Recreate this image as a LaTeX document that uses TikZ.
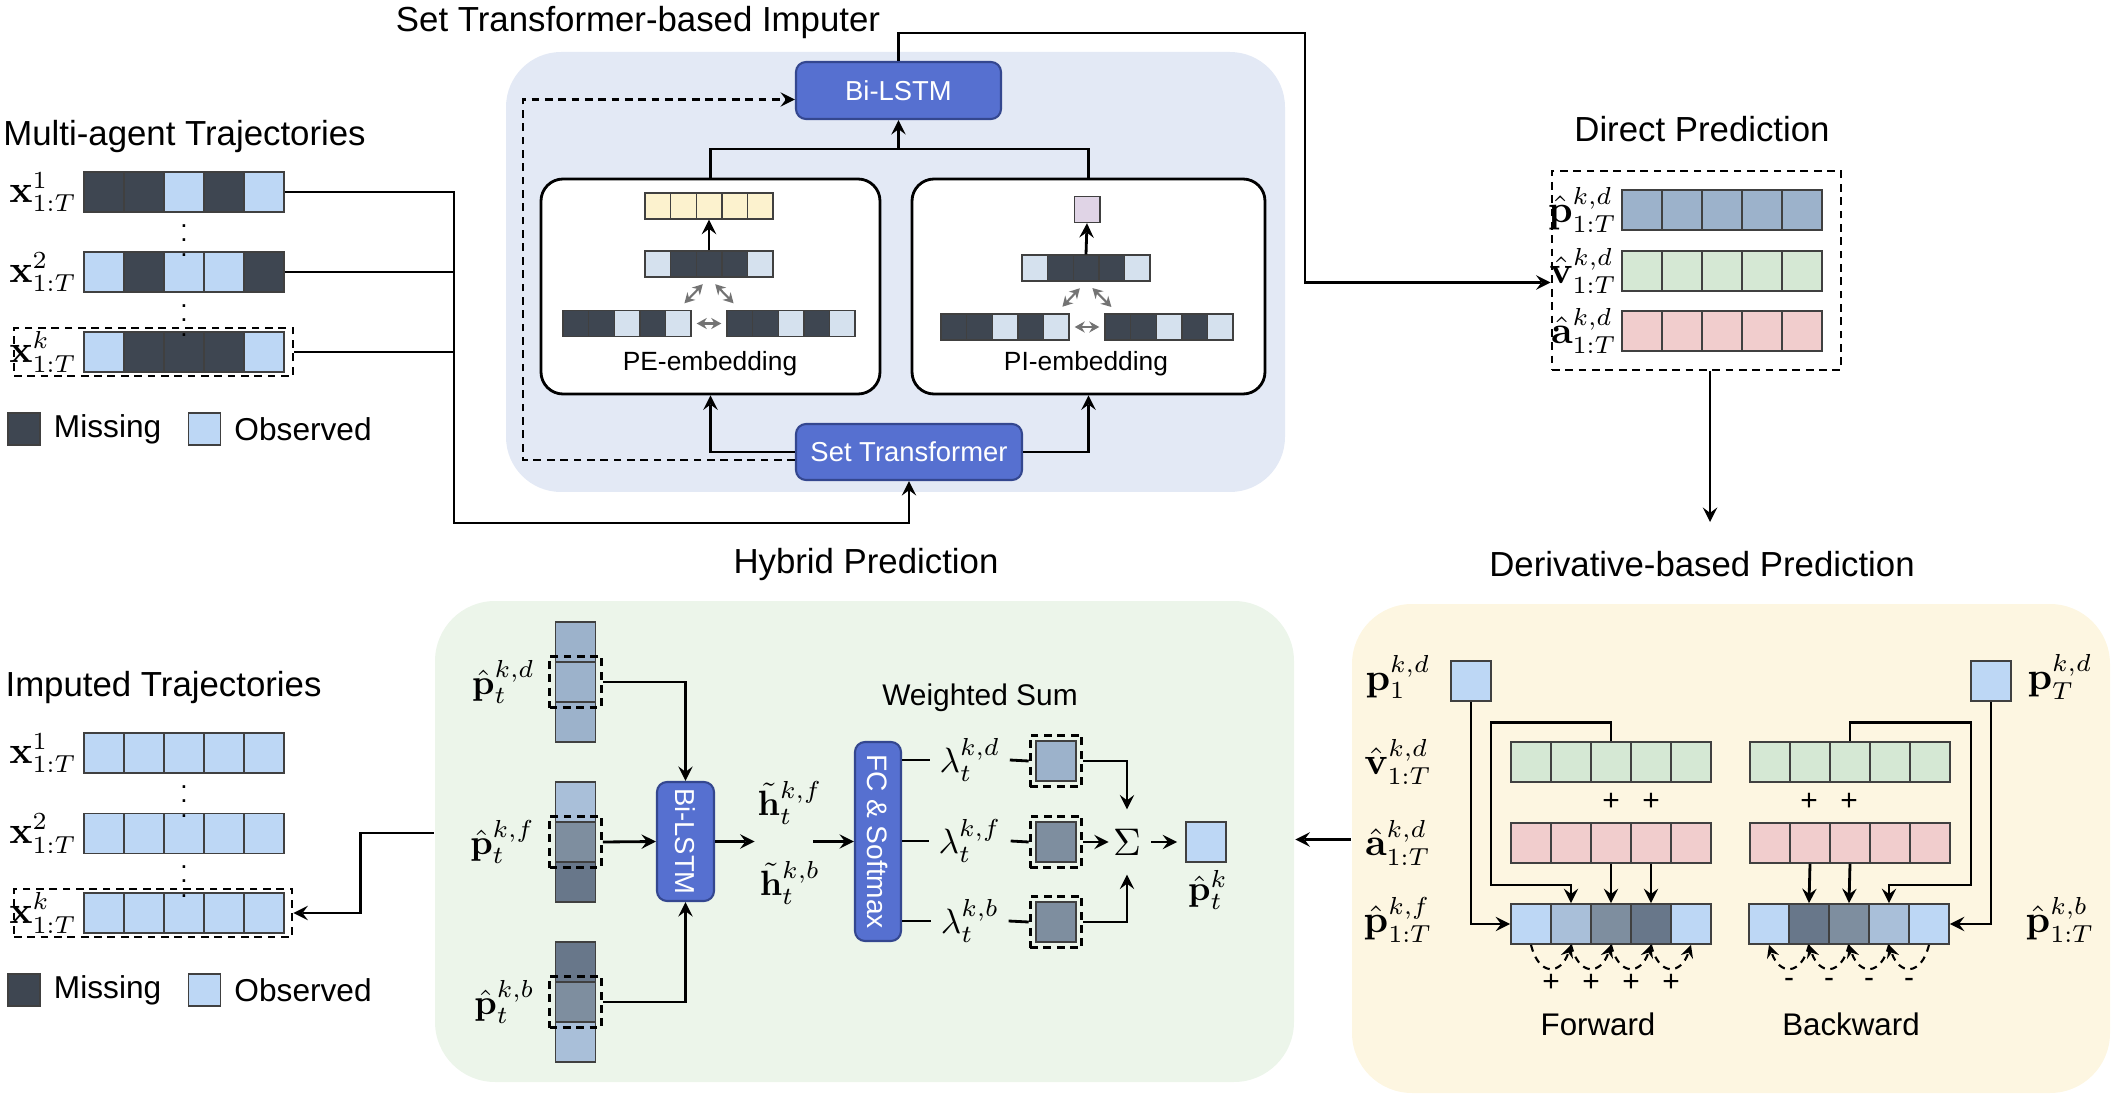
\documentclass[tikz,border=0pt]{standalone}
\usepackage[no-math]{fontspec}
\setmainfont{Liberation Sans}
\usepackage{amsmath}
\usepackage{graphicx}
\usepackage{xcolor}
\usetikzlibrary{fit,arrows.meta}

\definecolor{dk}{HTML}{3E4651}
\definecolor{lt}{HTML}{BDD7F5}
\definecolor{ltg}{HTML}{D5E1EE}
\definecolor{ylw}{HTML}{FCF2CE}
\definecolor{prp}{HTML}{E0D4E6}
\definecolor{stl}{HTML}{9CB2CB}
\definecolor{grn}{HTML}{D5E8D4}
\definecolor{pnk}{HTML}{F1CDCD}
\definecolor{c1}{HTML}{A9BFD9}
\definecolor{c2}{HTML}{7E8E9F}
\definecolor{c3}{HTML}{68778A}
\definecolor{bgimp}{HTML}{E3E9F5}
\definecolor{bghyb}{HTML}{ECF5EA}
\definecolor{bgder}{HTML}{FDF6E1}
\definecolor{lstm}{HTML}{5670D0}
\definecolor{lstmd}{HTML}{34478F}

\begin{document}
\begin{tikzpicture}[x=0.1mm, y=-0.1mm, >=stealth, thick]
\tikzstyle{bg}=[rectangle, rounded corners=5.5mm, inner sep=0]
\tikzstyle{cell}=[rectangle, draw=black!75, line width=0.5pt, minimum width=4mm, minimum height=4mm, inner sep=0]
\tikzstyle{sc}=[cell, line width=0.4pt, minimum width=2.56mm, minimum height=2.6mm]
\tikzstyle{blk}=[rectangle, rounded corners=1mm, fill=lstm, draw=lstmd, line width=0.6pt, text=white, inner sep=0, font=\fontsize{7.8}{9}\selectfont]
\tikzstyle{emb}=[rectangle, rounded corners=2.2mm, draw, fill=white, inner sep=0]
\tikzstyle{ttl}=[font=\fontsize{9.9}{12}\selectfont]
\tikzstyle{lbl}=[font=\fontsize{10.5}{12}\selectfont, inner sep=0.5mm]
\tikzstyle{dbox}=[rectangle, draw, dash pattern=on 2.2pt off 1.6pt, inner sep=0.5mm]
\tikzstyle{garr}=[{Stealth[length=1mm,width=1.1mm]}-{Stealth[length=1mm,width=1.1mm]}, draw=black!55, line width=0.6pt, shorten <=0.9mm, shorten >=0.9mm]
\tikzstyle{darr}=[->, line width=0.6pt, dash pattern=on 2pt off 1.6pt]
\tikzstyle{lgd}=[font=\fontsize{9}{11}\selectfont, anchor=west]
\tikzstyle{txt}=[font=\fontsize{7.5}{9}\selectfont]
\tikzstyle{sgn}=[font=\fontsize{8.5}{10}\selectfont, inner sep=0]
\tikzstyle{dots}=[font=\fontsize{7.5}{8}\selectfont, inner sep=0]
\useasboundingbox (0,0) rectangle (2125,1099);

% background panels
\node[bg, fill=bgimp, minimum width=77.9mm, minimum height=44mm] (imp) at (895.5,272) {};
\node[bg, fill=bghyb, minimum width=85.9mm, minimum height=48.1mm, rounded corners=6mm] (hyb) at (864.5,841.5) {};
\node[bg, fill=bgder, minimum width=75.8mm, minimum height=48.9mm, rounded corners=6mm] (der) at (1731,848.5) {};

% titles
\node[ttl] (t-imp) at (638,23) {Set Transformer-based Imputer};
\node[ttl] (t-mat) at (184.5,137) {Multi-agent Trajectories};
\node[ttl] (t-dir) at (1702,129) {Direct Prediction};
\node[ttl] (t-hyb) at (866,565) {Hybrid Prediction};
\node[ttl] (t-der) at (1702,564) {Derivative-based Prediction};
\node[ttl] (t-imt) at (163.5,687) {Imputed Trajectories};

% multi-agent trajectories
\foreach \c [count=\i] in {dk,dk,lt,dk,lt} \node[cell, fill=\c] (a\i) at ({64+40*\i},192) {};
\foreach \c [count=\i] in {lt,dk,lt,lt,dk} \node[cell, fill=\c] (b\i) at ({64+40*\i},272) {};
\foreach \c [count=\i] in {lt,dk,dk,dk,lt} \node[cell, fill=\c] (c\i) at ({64+40*\i},352) {};
\node[lbl, anchor=east] (xa) at (a1.west) {$\mathbf{x}^1_{1:T}$};
\node[lbl, anchor=east] (xb) at (b1.west) {$\mathbf{x}^2_{1:T}$};
\node[lbl, anchor=east] (xc) at (c1.west) {$\mathbf{x}^k_{1:T}$};
\node[dots] (d1) at (184,230) {$\vdots$};
\node[dots] (d2) at (184,310) {$\vdots$};
\node[dbox, minimum width=27.9mm, minimum height=4.8mm, inner sep=0] (sa) at (153.5,352) {};
\node[cell, fill=dk, minimum size=3.2mm] (mk1) at (24,429) {};
\node[lgd] (mk1t) at (mk1.east) {Missing};
\node[cell, fill=lt, minimum size=3.2mm] (ob1) at (204.5,429) {};
\node[lgd] (ob1t) at (ob1.east) {Observed};

% imputer
\node[blk, minimum width=20.5mm, minimum height=5.7mm] (bil) at (898.5,90.5) {Bi-LSTM};
\node[blk, minimum width=22.6mm, minimum height=5.6mm] (st) at (909,452) {Set Transformer};
\node[emb, minimum width=33.9mm, minimum height=21.5mm] (pe) at (710.5,286.5) {};
\node[emb, minimum width=35.3mm, minimum height=21.5mm] (pi) at (1088.5,286.5) {};
\node[txt] (pet) at (710,364) {PE-embedding};
\node[txt] (pit) at (1086,364) {PI-embedding};

\foreach \i in {1,...,5} \node[sc, fill=ylw] (py\i) at ({632.2+25.6*\i},206) {};
\foreach \c [count=\i] in {ltg,dk,dk,dk,ltg} \node[sc, fill=\c] (pm\i) at ({632.2+25.6*\i},264) {};
\foreach \c [count=\i] in {dk,dk,ltg,dk,ltg} \node[sc, fill=\c] (pl\i) at ({550.2+25.6*\i},323.5) {};
\foreach \c [count=\i] in {dk,dk,ltg,dk,ltg} \node[sc, fill=\c] (pr\i) at ({714.2+25.6*\i},323.5) {};
\draw[->] (pm3.north) -- (py3.south);
\draw[garr] (pl5.north) -- (pm3.south);
\draw[garr] (pm3.south) -- (pr1.north);
\draw[garr, shorten <=0.5mm, shorten >=0.5mm] (pl5.east) -- (pr1.west);

\node[sc, fill=prp] (qy) at (1087,209.5) {};
\foreach \c [count=\i] in {ltg,dk,dk,dk,ltg} \node[sc, fill=\c] (qm\i) at ({1009.2+25.6*\i},268) {};
\foreach \c [count=\i] in {dk,dk,ltg,dk,ltg} \node[sc, fill=\c] (ql\i) at ({928.2+25.6*\i},327) {};
\foreach \c [count=\i] in {dk,dk,ltg,dk,ltg} \node[sc, fill=\c] (qr\i) at ({1092.2+25.6*\i},327) {};
\draw[->] (qm3.north) -- (qy.south);
\draw[garr] (ql5.north) -- (qm3.south);
\draw[garr] (qm3.south) -- (qr1.north);
\draw[garr, shorten <=0.5mm, shorten >=0.5mm] (ql5.east) -- (qr1.west);

\coordinate (jn) at (898.5,149);
\draw (pe.north) |- (jn) -| (pi.north);
\draw[->] (jn) -- (bil.south);
\draw[->] (st.west) -| (pe.south);
\draw[->] (st.east) -| (pi.south);
\draw[->, dash pattern=on 2.2pt off 1.6pt] ([yshift=-0.8mm]st.west) -- ++(-272,0) |- ([yshift=-0.9mm]bil.west);

\coordinate (bus) at (454,523);
\draw[->] (a5.east) -| (bus) -| (st.south);
\draw (b5.east) -- (b5.east -| bus);
\draw (sa.east) -- (sa.east -| bus);

% direct prediction
\node[dbox, minimum width=28.9mm, minimum height=19.9mm, inner sep=0] (dp) at (1696.5,270.5) {};
\foreach \i in {1,...,5} {
  \node[cell, fill=stl] (dpp\i) at ({1602+40*\i},210) {};
  \node[cell, fill=grn] (dpv\i) at ({1602+40*\i},271) {};
  \node[cell, fill=pnk] (dpa\i) at ({1602+40*\i},331) {};
}
\node[lbl, inner sep=0.3mm, anchor=east] (ldp) at (dpp1.west) {$\hat{\mathbf{p}}^{k,d}_{1:T}$};
\node[lbl, inner sep=0.3mm, anchor=east] (ldv) at (dpv1.west) {$\hat{\mathbf{v}}^{k,d}_{1:T}$};
\node[lbl, inner sep=0.3mm, anchor=east] (lda) at (dpa1.west) {$\hat{\mathbf{a}}^{k,d}_{1:T}$};
\draw[->] (bil.north) |- (1305,33) |- ([yshift=-1.2mm]dp.west);
\coordinate (dpe) at (1710,522);
\draw[->] (dp.south -| dpe) -- (dpe);

% hybrid prediction
\foreach \c [count=\i] in {stl,stl,stl} \node[cell, fill=\c] (hd\i) at (575.5,{602+40*\i}) {};
\foreach \c [count=\i] in {c1,c2,c3} \node[cell, fill=\c] (hf\i) at (575.5,{762+40*\i}) {};
\foreach \c [count=\i] in {c3,c2,c1} \node[cell, fill=\c] (hb\i) at (575.5,{922+40*\i}) {};
\node[dbox, fit=(hd2)] (hdb) {};
\node[dbox, fit=(hf2)] (hfb) {};
\node[dbox, fit=(hb2)] (hbb) {};
\node[lbl, font=\fontsize{10}{12}\selectfont, inner sep=1.2mm, anchor=east] (lhd) at (hdb.west) {$\hat{\mathbf{p}}^{k,d}_t$};
\node[lbl, font=\fontsize{10}{12}\selectfont, inner sep=1.2mm, anchor=east] (lhf) at (hfb.west) {$\hat{\mathbf{p}}^{k,f}_t$};
\node[lbl, font=\fontsize{10}{12}\selectfont, inner sep=1.2mm, anchor=east] (lhb) at (hbb.west) {$\hat{\mathbf{p}}^{k,b}_t$};
\node[blk, minimum width=5.7mm, minimum height=11.9mm] (hbl) at (685.5,841.5) {\rotatebox{-90}{Bi-LSTM}};
\draw[->] (hdb.east) -| (hbl.north);
\draw[->] (hfb.east) -- (hbl.west);
\draw[->] (hbb.east) -| (hbl.south);
\node[inner sep=0, minimum width=5.6mm, minimum height=1mm] (hh) at (784,841.5) {};
\node[lbl, font=\fontsize{10}{12}\selectfont] (lhhf) at (790,803) {$\tilde{\mathbf{h}}^{k,f}_t$};
\node[lbl, font=\fontsize{10}{12}\selectfont] (lhhb) at (790,883) {$\tilde{\mathbf{h}}^{k,b}_t$};
\node[blk, minimum width=4.6mm, minimum height=19.9mm, font=\fontsize{8}{9}\selectfont] (fc) at (878,841.5) {\rotatebox{-90}{FC \& Softmax}};
\draw[->] (hbl.east) -- (hh.west);
\draw[->] (hh.east) -- (fc.west);
\node[font=\fontsize{8.5}{10}\selectfont] (ws) at (980,698) {Weighted Sum};
\node[lbl, font=\fontsize{10}{12}\selectfont, inner sep=0.8mm] (lmd) at (970,760) {$\lambda^{k,d}_t$};
\node[lbl, font=\fontsize{10}{12}\selectfont, inner sep=0.8mm] (lmf) at (970,841) {$\lambda^{k,f}_t$};
\node[lbl, font=\fontsize{10}{12}\selectfont, inner sep=0.8mm] (lmb) at (970,921) {$\lambda^{k,b}_t$};
\node[cell, fill=stl] (wd) at (1056,761) {};
\node[cell, fill=c2] (wf) at (1056,842) {};
\node[cell, fill=c2] (wb) at (1056,922) {};
\node[dbox, fit=(wd)] (wdb) {};
\node[dbox, fit=(wf)] (wfb) {};
\node[dbox, fit=(wb)] (wbb) {};
\draw (lmd.west -| fc.east) -- (lmd.west);
\draw (lmf.west -| fc.east) -- (lmf.west);
\draw (lmb.west -| fc.east) -- (lmb.west);
\draw (lmd.east) -- (wdb.west);
\draw (lmf.east) -- (wfb.west);
\draw (lmb.east) -- (wbb.west);
\node[inner xsep=0.3mm, inner ysep=1.8mm, font=\fontsize{11}{12}\selectfont] (sig) at (1127,842) {$\Sigma$};
\draw[->] (wdb.east) -| (sig.north);
\draw[->] (wfb.east) -- (sig.west);
\draw[->] (wbb.east) -| (sig.south);
\node[cell, fill=lt] (res) at (1206,842) {};
\node[lbl, font=\fontsize{10}{12}\selectfont] (lres) at (1208,890) {$\hat{\mathbf{p}}^k_t$};
\draw[->, shorten <=0.6mm, shorten >=0.8mm] (sig.east) -- (res.west);

% imputed trajectories
\foreach \i in {1,...,5} {
  \node[cell, fill=lt] (e\i) at ({64+40*\i},753) {};
  \node[cell, fill=lt] (f\i) at ({64+40*\i},833.5) {};
  \node[cell, fill=lt] (g\i) at ({64+40*\i},913) {};
}
\node[lbl, anchor=east] (xe) at (e1.west) {$\mathbf{x}^1_{1:T}$};
\node[lbl, anchor=east] (xf) at (f1.west) {$\mathbf{x}^2_{1:T}$};
\node[lbl, anchor=east] (xg) at (g1.west) {$\mathbf{x}^k_{1:T}$};
\node[dots] (d3) at (184,791) {$\vdots$};
\node[dots] (d4) at (184,871) {$\vdots$};
\node[dbox, minimum width=27.8mm, minimum height=4.8mm, inner sep=0] (sb) at (153,913) {};
\node[cell, fill=dk, minimum size=3.2mm] (mk2) at (24,990) {};
\node[lgd] (mk2t) at (mk2.east) {Missing};
\node[cell, fill=lt, minimum size=3.2mm] (ob2) at (204.5,990) {};
\node[lgd] (ob2t) at (ob2.east) {Observed};
\coordinate (hl) at ([yshift=0.85mm]hyb.west);
\draw[->] (hl) -- ++(-73,0) |- (sb.east);

% derivative-based prediction
\node[cell, fill=lt] (p1) at (1471,681) {};
\node[cell, fill=lt] (pT) at (1991,681) {};
\node[lbl] (lp1) at (1398,677) {$\mathbf{p}^{k,d}_1$};
\node[lbl] (lpT) at (2060,677) {$\mathbf{p}^{k,d}_T$};
\node[lbl] (lv) at (1398,762) {$\hat{\mathbf{v}}^{k,d}_{1:T}$};
\node[lbl] (la) at (1398,843) {$\hat{\mathbf{a}}^{k,d}_{1:T}$};
\node[lbl] (lpf) at (1398,920) {$\hat{\mathbf{p}}^{k,f}_{1:T}$};
\node[lbl] (lpb) at (2060,920) {$\hat{\mathbf{p}}^{k,b}_{1:T}$};
\foreach \i in {1,...,5} {
  \node[cell, fill=grn] (gf\i) at ({1491+40*\i},762) {};
  \node[cell, fill=pnk] (rf\i) at ({1491+40*\i},843) {};
  \node[cell, fill=grn] (gb\i) at ({1730+40*\i},762) {};
  \node[cell, fill=pnk] (rb\i) at ({1730+40*\i},843) {};
}
\foreach \c [count=\i] in {lt,c1,c2,c3,lt} \node[cell, fill=\c] (ff\i) at ({1491+40*\i},924) {};
\foreach \c [count=\i] in {lt,c3,c2,c1,lt} \node[cell, fill=\c] (bb\i) at ({1729+40*\i},924) {};
\draw[->] (p1.south) |- (ff1.west);
\draw[->] (pT.south) |- (bb5.east);
\draw[->] (gf3.north) -- ++(0,-19) -| (1491,885) -| (ff2.north);
\draw[->] (gb3.north) -- ++(0,-19) -| (1971,885) -| (bb4.north);
\foreach \i in {3,4} \draw[->] (rf\i.south) -- (ff\i.north);
\foreach \i in {2,3} \draw[->] (rb\i.south) -- (bb\i.north);
\node[sgn] (pv1) at (1611,802) {+};
\node[sgn] (pv2) at (1651,802) {+};
\node[sgn] (pv3) at (1809,802) {+};
\node[sgn] (pv4) at (1849,802) {+};
\foreach \i/\j in {1/2,2/3,3/4,4/5} {
  \draw[darr] (ff\i.south) .. controls +(8,32) and +(-10,30) .. (ff\j.south);
  \draw[darr] (bb\j.south) .. controls +(-8,32) and +(10,30) .. (bb\i.south);
}
\foreach \x [count=\i] in {1551,1591,1631,1671} \node[sgn] (sp\i) at (\x,983) {+};
\foreach \x [count=\i] in {1789,1829,1869,1909} \node[sgn] (sm\i) at (\x,983) {-};
\node[font=\fontsize{8.9}{10}\selectfont] (fw) at (1598,1024) {Forward};
\node[font=\fontsize{8.9}{10}\selectfont] (bw) at (1851,1024) {Backward};
\coordinate (dl) at ([yshift=0.9mm]der.west);
\draw[->] (dl) -- (dl -| hyb.east);
\end{tikzpicture}
\end{document}
